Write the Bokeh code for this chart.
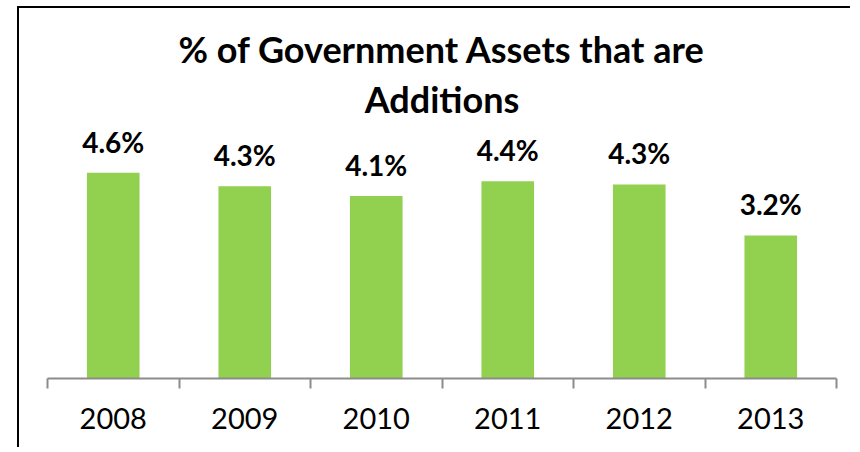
from bokeh.plotting import figure
from bokeh.models import Range1d, FixedTicker, LinearAxis, ColumnDataSource, Title
from bokeh.core.properties import value
from bokeh.embed import file_html
from bokeh.resources import INLINE

years = ["2008", "2009", "2010", "2011", "2012", "2013"]
shares = [4.6, 4.3, 4.08, 4.41, 4.34, 3.2]
labels = ["4.6%", "4.3%", "4.1%", "4.4%", "4.3%", "3.2%"]
title_lines = ["% of Government Assets that are", "Additions"]

FONT = "Lato"

centers = [i + 0.5 for i in range(len(years))]
src = ColumnDataSource(data=dict(x=centers, year=years, share=shares, label=labels))

p = figure(width=833, height=441, output_backend="svg", toolbar_location=None,
           x_range=Range1d(0, len(years)), y_range=Range1d(0, 5.68),
           x_axis_type=None, y_axis_type=None,
           min_border_left=28, min_border_right=16, min_border_bottom=71, min_border_top=116)
p.styles = {"border-left": "2px solid black", "border-top": "2px solid black",
            "position": "relative", "left": "17px", "top": "6px"}

p.outline_line_color = None
p.grid.visible = False
p.background_fill_color = "white"
p.border_fill_color = "white"

for line, stand in zip(reversed(title_lines), [8, 0]):
    t = Title(text=line, align="center", text_font=FONT, text_font_size="36px",
              text_font_style="bold", text_color="black", standoff=stand)
    p.add_layout(t, "above")

xa = LinearAxis()
xa.ticker = FixedTicker(ticks=centers, minor_ticks=list(range(len(years) + 1)))
xa.major_label_overrides = {c: y for c, y in zip(centers, years)}
xa.major_tick_out = 0
xa.major_tick_in = 0
xa.minor_tick_out = 10
xa.minor_tick_in = 0
xa.axis_line_color = "#8c8c8c"
xa.axis_line_width = 2
xa.minor_tick_line_color = "#8c8c8c"
xa.minor_tick_line_width = 2
xa.major_label_text_font = FONT
xa.major_label_text_font_size = "29px"
xa.major_label_text_color = "black"
xa.major_label_standoff = 19
p.add_layout(xa, "below")

p.vbar(x="x", top="share", width=0.4, source=src,
       fill_color="#92d050", line_color=None)
p.text(x="x", y="share", text="label", source=src,
       text_align="center", text_baseline="alphabetic", y_offset=-31,
       text_font=value(FONT), text_font_size="28px", text_font_style="bold",
       text_color="black")

open("out.html", "w").write(file_html(p, INLINE))
